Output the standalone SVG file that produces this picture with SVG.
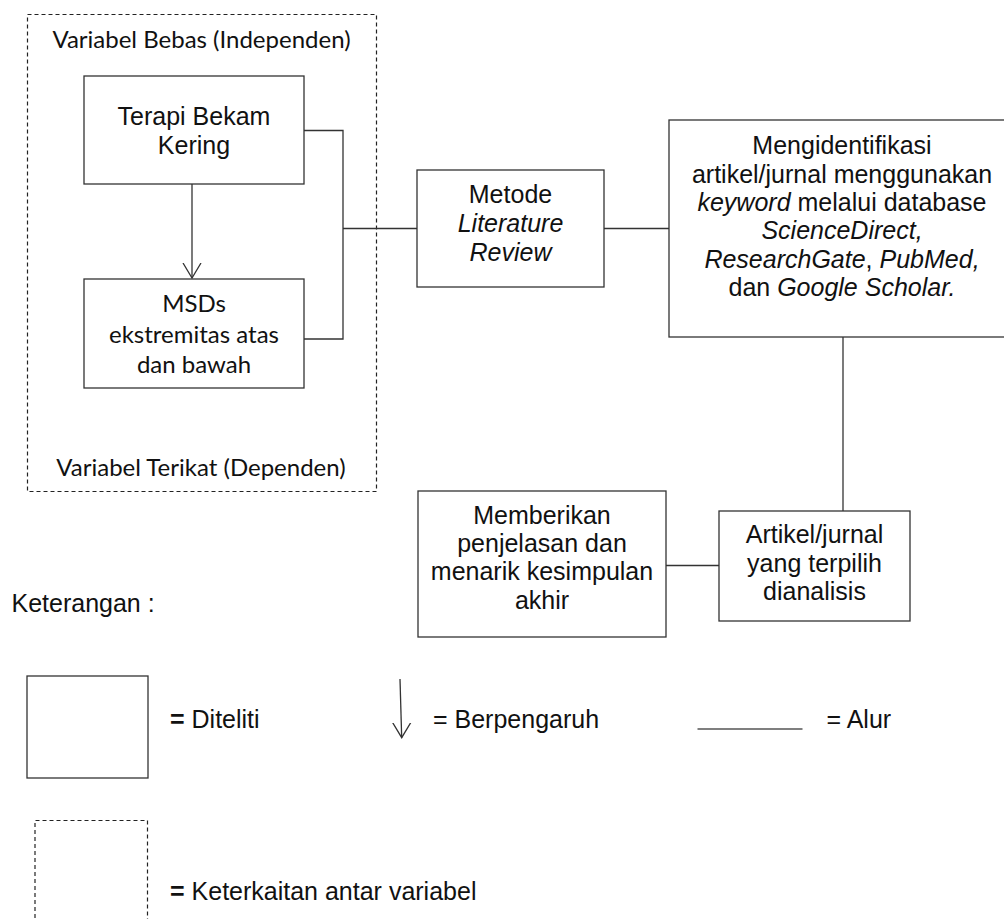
<svg xmlns="http://www.w3.org/2000/svg" width="1004" height="919" viewBox="0 0 1004 919">
<style>
.box{fill:#fff;stroke:#333;stroke-width:1.3}
.dash{fill:none;stroke:#222;stroke-width:1.2;stroke-dasharray:4 3}
.ln{fill:none;stroke:#333;stroke-width:1.3}
.a{font-family:"Liberation Sans",Arial,sans-serif;font-size:25px;fill:#111}
.c{font-family:Lato,"Open Sans",sans-serif;font-size:24px;fill:#111}
.m{text-anchor:middle}
.i{font-style:italic}
.b{font-weight:bold}
</style>
<defs>
<marker id="vhead" viewBox="0 0 20 16" refX="10" refY="15" markerWidth="20" markerHeight="16" markerUnits="userSpaceOnUse">
<path d="M1,0 L10,15 L19,0" fill="none" stroke="#333" stroke-width="1.3"/>
</marker>
</defs>
<rect width="1004" height="919" fill="#fff"/>

<g id="variabel-group">
<rect class="dash" x="27.5" y="14.5" width="349" height="477"/>
<text class="c m" x="201.5" y="48">Variabel Bebas (Independen)</text>
<text class="c m" x="201" y="476">Variabel Terikat (Dependen)</text>
</g>

<g id="connectors">
<line class="ln" x1="192" y1="184" x2="192" y2="278" marker-end="url(#vhead)"/>
<polyline class="ln" points="304,130.5 343,130.5 343,339 304,339"/>
<line class="ln" x1="343" y1="228.5" x2="417" y2="228.5"/>
<line class="ln" x1="604" y1="228.5" x2="669" y2="228.5"/>
<line class="ln" x1="843" y1="337" x2="843" y2="511"/>
<line class="ln" x1="666" y1="565.5" x2="719" y2="565.5"/>
</g>

<g id="node-terapi">
<rect class="box" x="84" y="76" width="220" height="108"/>
<text class="a m" x="194" y="125">Terapi Bekam</text>
<text class="a m" x="194" y="154">Kering</text>
</g>

<g id="node-msds">
<rect class="box" x="84" y="279" width="220" height="109"/>
<text class="c m" x="194" y="312">MSDs</text>
<text class="c m" x="194" y="343">ekstremitas atas</text>
<text class="c m" x="194" y="373">dan bawah</text>
</g>

<g id="node-metode">
<rect class="box" x="417" y="170" width="187" height="117"/>
<text class="a m" x="510.5" y="202.7">Metode</text>
<text class="a m i" x="510.5" y="231.7">Literature</text>
<text class="a m i" x="510.5" y="260.7">Review</text>
</g>

<g id="node-identifikasi">
<rect class="box" x="669" y="120" width="350" height="217"/>
<text class="a m" x="842" y="154.3">Mengidentifikasi</text>
<text class="a m" x="842" y="182.6">artikel/jurnal menggunakan</text>
<text class="a m" x="842" y="210.9"><tspan class="i">keyword</tspan> melalui database</text>
<text class="a m i" x="842" y="239.2">ScienceDirect,</text>
<text class="a m" x="842" y="267.5"><tspan class="i">ResearchGate</tspan>, <tspan class="i">PubMed,</tspan></text>
<text class="a m" x="842" y="295.8">dan <tspan class="i">Google Scholar.</tspan></text>
</g>

<g id="node-artikel">
<rect class="box" x="719" y="511" width="191" height="110"/>
<text class="a m" x="814.5" y="543.3">Artikel/jurnal</text>
<text class="a m" x="814.5" y="571.7">yang terpilih</text>
<text class="a m" x="814.5" y="600">dianalisis</text>
</g>

<g id="node-memberikan">
<rect class="box" x="418" y="491" width="248" height="146"/>
<text class="a m" x="542" y="523.7">Memberikan</text>
<text class="a m" x="542" y="552">penjelasan dan</text>
<text class="a m" x="542" y="580.3">menarik kesimpulan</text>
<text class="a m" x="542" y="608.6">akhir</text>
</g>

<g id="legend">
<text class="a" x="11.5" y="612.3">Keterangan :</text>
<rect class="box" x="27" y="676" width="121" height="102"/>
<text class="a" x="170" y="728"><tspan class="b">=</tspan> Diteliti</text>
<line class="ln" x1="400" y1="679" x2="401.7" y2="737.7" marker-end="url(#vhead)"/>
<text class="a" x="433" y="728.3">= Berpengaruh</text>
<line x1="697.5" y1="729" x2="802.5" y2="729" stroke="#555" stroke-width="1.6"/>
<text class="a" x="826.5" y="728.3">= Alur</text>
<path class="dash" d="M35,925 L35,820.5 L147.5,820.5 L147.5,925"/>
<text class="a" x="170" y="900"><tspan class="b">=</tspan> Keterkaitan antar variabel</text>
</g>
</svg>
